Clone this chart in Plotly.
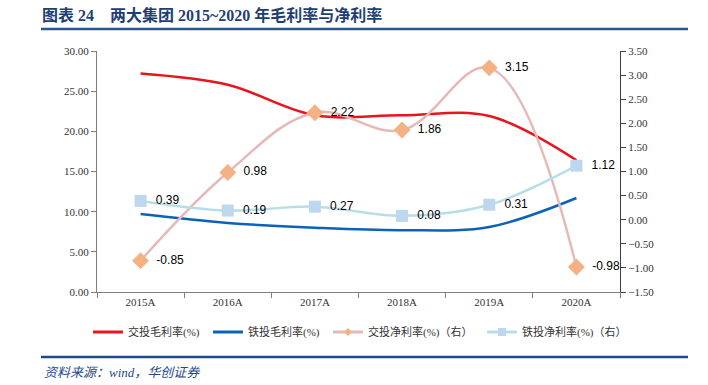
import plotly.graph_objects as go

categories = ["2015A", "2016A", "2017A", "2018A", "2019A", "2020A"]
jt_gross = [27.2, 25.8, 22.0, 22.0, 21.9, 16.4]      # 交投毛利率(%)
tt_gross = [9.7, 8.6, 8.0, 7.7, 8.1, 11.7]           # 铁投毛利率(%)
jt_net = [-0.85, 0.98, 2.22, 1.86, 3.15, -0.98]      # 交投净利率(%)（右）
tt_net = [0.39, 0.19, 0.27, 0.08, 0.31, 1.12]        # 铁投净利率(%)（右）

names = ["交投毛利率(%)", "铁投毛利率(%)", "交投净利率(%)（右）", "铁投净利率(%)（右）"]

L, R, T, B = 97, 88, 51, 93
W, H = 708, 385
pw, ph = W - L - R, H - T - B
def px(x): return (x - L) / pw
def py(y): return (H - B - y) / ph

RED, BLUE, PINK, PINKM, LBLUE, LBLUEM = "#E8141E", "#0B62B8", "#E6B9B8", "#F4B183", "#B7DEE8", "#BDD7EE"
lblfont = dict(family="Liberation Sans, Arial", size=12, color="#000000")
pad = "\u00a0\u00a0"

fig = go.Figure()
fig.add_trace(go.Scatter(x=categories, y=jt_gross, name=names[0], mode="lines", showlegend=False,
                         line=dict(color=RED, width=2.5, shape="spline", smoothing=1.0)))
fig.add_trace(go.Scatter(x=categories, y=tt_gross, name=names[1], mode="lines", showlegend=False,
                         line=dict(color=BLUE, width=2.5, shape="spline", smoothing=1.0)))
fig.add_trace(go.Scatter(x=categories, y=jt_net, name=names[2], mode="lines+markers+text",
                         yaxis="y2", showlegend=False, cliponaxis=False,
                         line=dict(color=PINK, width=2.5, shape="spline", smoothing=1.1),
                         marker=dict(symbol="diamond", size=13, color=PINKM),
                         text=[pad + f"{v:.2f}" for v in jt_net], textposition="middle right",
                         textfont=lblfont))
fig.add_trace(go.Scatter(x=categories, y=tt_net, name=names[3], mode="lines+markers+text",
                         yaxis="y2", showlegend=False, cliponaxis=False,
                         line=dict(color=LBLUE, width=2.5, shape="spline", smoothing=1.0),
                         marker=dict(symbol="square", size=12, color=LBLUEM),
                         text=[pad + f"{v:.2f}" for v in tt_net], textposition="middle right",
                         textfont=lblfont))

# legend-only entries
leg_specs = [
    (names[0], "lines", dict(color=RED, width=3), None, "legend", 88),
    (names[1], "lines", dict(color=BLUE, width=3), None, "legend2", 208),
    (names[2], "lines+markers", dict(color=PINK, width=3), dict(symbol="diamond", size=6, color=PINKM), "legend3", 328),
    (names[3], "lines+markers", dict(color=LBLUE, width=3), dict(symbol="square", size=8, color=LBLUEM), "legend4", 482),
]
legfont = dict(family="Liberation Serif, Noto Sans CJK SC", size=11, color="#333333")
legend_layouts = {}
for nm, mode, ln, mk, lg, xpos in leg_specs:
    kw = dict(x=[None], y=[None], name=nm, mode=mode, line=ln, legend=lg, showlegend=True)
    if mk:
        kw["marker"] = mk
    fig.add_trace(go.Scatter(**kw))
    legend_layouts[lg] = dict(orientation="h", x=px(xpos), xanchor="left", y=py(332), yanchor="middle",
                              font=legfont, bgcolor="rgba(0,0,0,0)", itemwidth=30)

tickfont = dict(family="Liberation Serif, Times New Roman, serif", size=11, color="#333333")
fig.update_layout(
    width=W, height=H,
    margin=dict(l=L, r=R, t=T, b=B, autoexpand=False),
    plot_bgcolor="white", paper_bgcolor="white",
    showlegend=True,
    **legend_layouts,
    xaxis=dict(type="category", range=[-0.5, 5.5], showline=True, linecolor="#7f7f7f", linewidth=1,
               ticks="outside", tickson="boundaries", ticklen=5, tickcolor="#7f7f7f",
               tickfont=tickfont, showgrid=False, zeroline=False),
    yaxis=dict(range=[0, 30], dtick=5, tickformat=".2f", showline=True, linecolor="#7f7f7f",
               ticks="outside", ticklen=5, tickcolor="#7f7f7f", tickfont=tickfont,
               showgrid=False, zeroline=False),
    yaxis2=dict(range=[-1.5, 3.5], dtick=0.5, tickformat=".2f", overlaying="y", side="right",
                showline=True, linecolor="#404040", ticks="outside", ticklen=5, tickcolor="#404040",
                tickfont=tickfont, showgrid=False, zeroline=False),
    title=dict(text="<b>图表 24    两大集团 2015~2020 年毛利率与净利率</b>",
               xref="container", yref="container", x=42 / W, xanchor="left",
               y=1 - 15 / H, yanchor="middle",
               font=dict(family="Liberation Serif, Noto Sans CJK SC", size=16, color="#1F3F73")),
    shapes=[
        dict(type="line", xref="paper", yref="paper", x0=px(41), x1=px(688), y0=py(29), y1=py(29),
             line=dict(color="#2B5590", width=2.5)),
        dict(type="line", xref="paper", yref="paper", x0=px(41), x1=px(688), y0=py(357), y1=py(357),
             line=dict(color="#1F4A8A", width=2.5)),
    ],
    annotations=[
        dict(text="<i>资料来源：wind，华创证券</i>", xref="paper", yref="paper",
             x=px(42), y=py(372), xanchor="left", yanchor="middle", showarrow=False,
             font=dict(family="Liberation Serif, Noto Sans CJK SC", size=13, color="#1F4A8A")),
    ],
)

fig.write_html("out.html", config={"displayModeBar": False},
               post_script="document.body.style.margin='0';document.body.style.padding='0';")
